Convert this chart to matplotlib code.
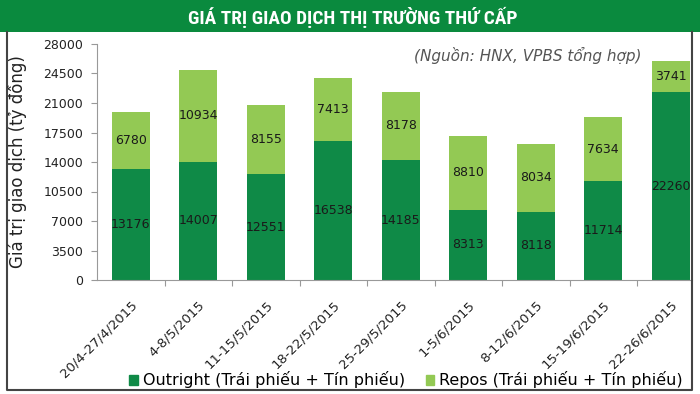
import matplotlib
matplotlib.use("Agg")
import matplotlib.pyplot as plt
from matplotlib.patches import Rectangle, Patch
from matplotlib.lines import Line2D
from matplotlib import font_manager

categories = ["20/4-27/4/2015", "4-8/5/2015", "11-15/5/2015", "18-22/5/2015",
              "25-29/5/2015", "1-5/6/2015", "8-12/6/2015", "15-19/6/2015",
              "22-26/6/2015"]
outright = [13176, 14007, 12551, 16538, 14185, 8313, 8118, 11714, 22260]
repos = [6780, 10934, 8155, 7413, 8178, 8810, 8034, 7634, 3741]
yticks = [0, 3500, 7000, 10500, 14000, 17500, 21000, 24500, 28000]

DARK = "#0f8a47"
LIGHT = "#93c954"
W, H = 700, 394

names = {f.name for f in font_manager.fontManager.ttflist}
title_family = ["DejaVu Sans"]
title_size = 12.5
for cand in ["Roboto Condensed", "Open Sans Condensed", "Liberation Sans Narrow",
             "DejaVu Sans Condensed"]:
    if cand in names:
        title_family = [cand, "DejaVu Sans"]
        title_size = 14
        break

fig = plt.figure(figsize=(W / 100, H / 100), dpi=100)
fig.patch.set_facecolor("white")

# Banner
fig.patches.append(Rectangle((0, 1 - 32 / H), 1, 32 / H, transform=fig.transFigure,
                             facecolor="#0a8a3e", edgecolor="none", zorder=0))
title = fig.text(353 / W, 1 - 17 / H, "GIÁ TRỊ GIAO DỊCH THỊ TRƯỜNG THỨ CẤP", color="white",
                 fontsize=title_size, fontweight="bold", fontstretch="condensed",
                 family=title_family, ha="center", va="center")
# shrink to the reference width (about 330 px)
r = fig.canvas.get_renderer()
wpx = title.get_window_extent(r).width
if wpx > 0:
    title.set_fontsize(title_size * min(1.25, 330 / wpx))

# Frame
xs = [7 / W, 7 / W, 692 / W, 692 / W]
ys = [1 - 32 / H, 1 - 390 / H, 1 - 390 / H, 1 - 32 / H]
fig.add_artist(Line2D(xs, ys, transform=fig.transFigure, color="#444444", lw=1.5))

# Axes
left, right, top, bottom = 97, 692, 44, 280
ax = fig.add_axes([left / W, 1 - bottom / H, (right - left) / W, (bottom - top) / H])
spacing = 67.5
x = list(range(len(categories)))
ax.bar(x, outright, width=0.565, color=DARK, zorder=2)
ax.bar(x, repos, width=0.565, bottom=outright, color=LIGHT, zorder=2)
for i in x:
    ax.text(i, outright[i] / 2, str(outright[i]), ha="center", va="center",
            fontsize=9, color="#1a1a1a", zorder=3)
    ax.text(i, outright[i] + repos[i] / 2, str(repos[i]), ha="center", va="center",
            fontsize=9, color="#1a1a1a", zorder=3)

ax.set_xlim(-0.5, -0.5 + (right - left) / spacing)
ax.set_ylim(0, 28000)
ax.set_yticks(yticks)
ax.set_yticklabels([str(v) for v in yticks], fontsize=9, color="#222222")
ax.set_xticks([i + 0.5 for i in range(len(categories) - 1)])
ax.set_xticklabels([])
ax.set_xticks(x, minor=True)
ax.set_xticklabels(categories, minor=True, rotation=45, ha="right",
                   rotation_mode="anchor", fontsize=9.5, color="#222222")
ax.tick_params(axis="x", which="minor", length=0, pad=13)
ax.tick_params(axis="x", which="major", length=4, color="#999999", direction="out")
ax.tick_params(axis="y", length=4, color="#999999", direction="out", pad=6)
for s in ["top", "right"]:
    ax.spines[s].set_visible(False)
ax.spines["left"].set_color("#999999")
ax.spines["bottom"].set_color("#999999")

fig.text(18 / W, 1 - 162 / H, "Giá trị giao dịch (tỷ đồng)", rotation=90,
         ha="center", va="center", fontsize=12, color="#222222")
fig.text(528 / W, 1 - 55 / H, "(Nguồn: HNX, VPBS tổng hợp)", style="italic",
         ha="center", va="center", fontsize=11, color="#555555")

handles = [Patch(color=DARK, label="Outright (Trái phiếu + Tín phiếu)"),
           Patch(color=LIGHT, label="Repos (Trái phiếu + Tín phiếu)")]
fig.legend(handles=handles, loc="center", bbox_to_anchor=(406 / W, 1 - 380 / H),
           ncol=2, frameon=False, fontsize=11.5, handlelength=0.55, handleheight=0.55,
           handletextpad=0.3, columnspacing=1.3, borderaxespad=0)

fig.savefig("out.png", dpi=100)
